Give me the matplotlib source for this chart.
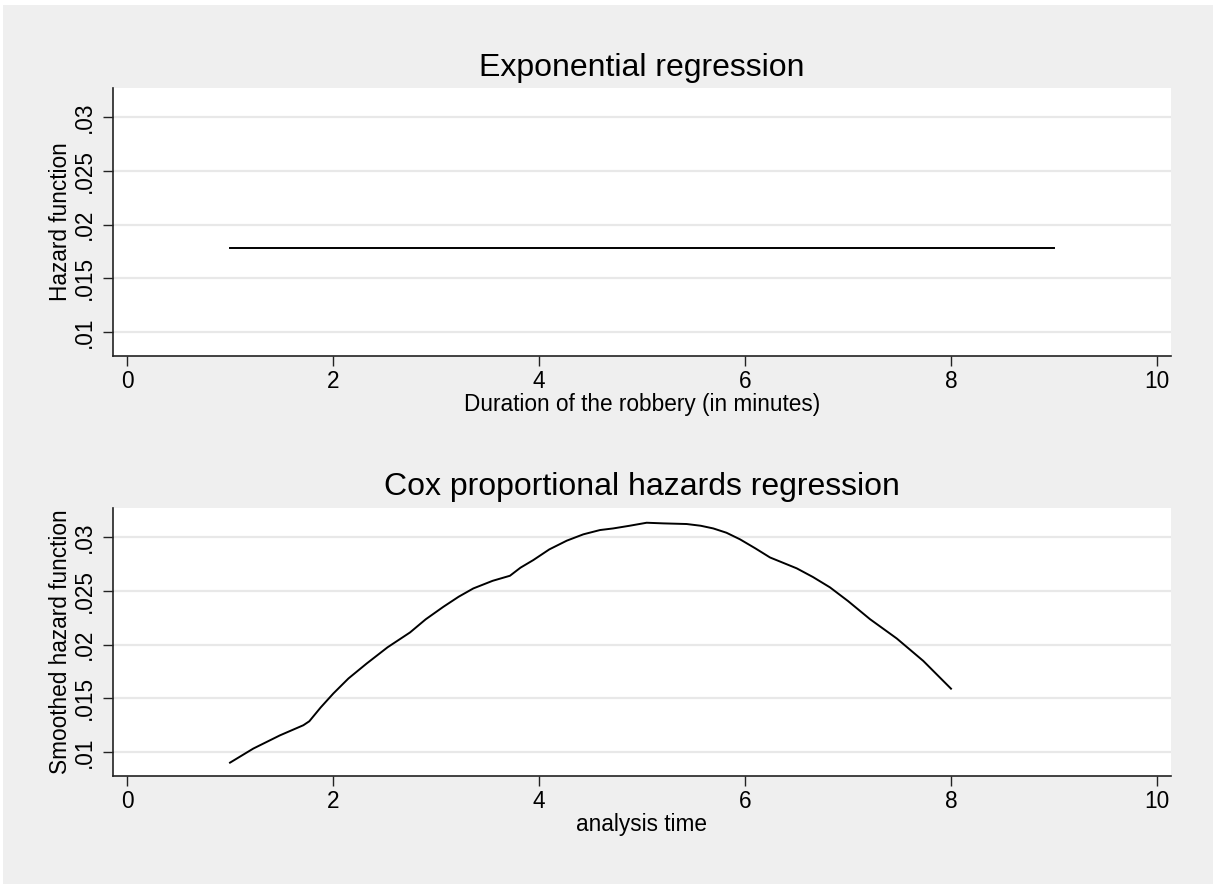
import numpy as np
import matplotlib
matplotlib.use("Agg")
import matplotlib.pyplot as plt
from matplotlib.patches import Rectangle

plt.rcParams['font.family'] = ['Liberation Sans', 'DejaVu Sans']

# exponential model: constant hazard
exp_time = [1, 9]
exp_hazard = [0.0178, 0.0178]

# cox model: smoothed hazard
cox_time = [1.0, 1.226, 1.485, 1.712, 1.77, 1.88, 2.003, 2.15, 2.327, 2.53, 2.748, 2.9,
            3.071, 3.22, 3.362, 3.55, 3.718, 3.82, 3.945, 4.1, 4.269, 4.43, 4.592, 4.72,
            4.88, 5.045, 5.207, 5.434, 5.57, 5.692, 5.82, 5.951, 6.1, 6.243, 6.502,
            6.66, 6.825, 7.0, 7.214, 7.473, 7.731, 8.0]
cox_hazard = [0.00902, 0.01033, 0.01156, 0.0125, 0.01287, 0.01415, 0.01545, 0.01685,
              0.01824, 0.01975, 0.02113, 0.02235, 0.02351, 0.02445, 0.02522, 0.02593,
              0.0264, 0.02715, 0.02786, 0.02885, 0.02966, 0.03025, 0.03065, 0.0308,
              0.03105, 0.03133, 0.03127, 0.03121, 0.03105, 0.0308, 0.0304, 0.02979,
              0.02895, 0.0281, 0.02709, 0.02628, 0.02532, 0.02405, 0.02236, 0.02057,
              0.01848, 0.0159]

xticks = [0, 2, 4, 6, 8, 10]
yticks = [0.01, 0.015, 0.02, 0.025, 0.03]
ytick_labels = ['.01', '.015', '.02', '.025', '.03']

BG = '#efefef'
GRID = '#e8e8e8'
W, H = 1213, 884

fig = plt.figure(figsize=(W / 100, H / 100), dpi=100, facecolor='white')
fig.patches.append(Rectangle((3 / W, 0), 1 - 3 / W, 1 - 5 / H, transform=fig.transFigure,
                             facecolor=BG, edgecolor='none', zorder=-10))

left = 113 / W
width = (1171 - 113) / W
height = 268 / H
ax1 = fig.add_axes([left, 1 - 356 / H, width, height])
ax2 = fig.add_axes([left, 1 - 776 / H, width, height])


def style(ax, title, xlabel, ylabel):
    ax.set_facecolor('white')
    ax.set_xlim(-0.136, 10.136)
    ax.set_ylim(0.00778, 0.0327)
    ax.set_xticks(xticks)
    ax.set_xticklabels([str(t) for t in xticks])
    ax.set_yticks(yticks)
    ax.set_yticklabels(ytick_labels, rotation=90, va='center')
    for s in ['top', 'right']:
        ax.spines[s].set_visible(False)
    for s in ['left', 'bottom']:
        ax.spines[s].set_color('#222222')
        ax.spines[s].set_linewidth(1.2)
    ax.tick_params(direction='out', length=7, width=1, color='#222222',
                   labelsize=16.3, pad=3)
    ax.tick_params(axis='y', pad=5)
    ax.grid(axis='y', color=GRID, linewidth=1.6)
    ax.set_axisbelow(True)
    ax.set_title(title, fontsize=23, pad=9)
    ax.set_xlabel(xlabel, fontsize=16.3, labelpad=0)
    ax.set_ylabel(ylabel, fontsize=16.3, labelpad=1)


ax1.plot(exp_time, exp_hazard, color='black', linewidth=1.4)
style(ax1, 'Exponential regression', 'Duration of the robbery (in minutes)', 'Hazard function')

ax2.plot(cox_time, cox_hazard, color='black', linewidth=1.4)
style(ax2, 'Cox proportional hazards regression', 'analysis time', 'Smoothed hazard function')

fig.savefig('out.png', dpi=100, facecolor=fig.get_facecolor())
